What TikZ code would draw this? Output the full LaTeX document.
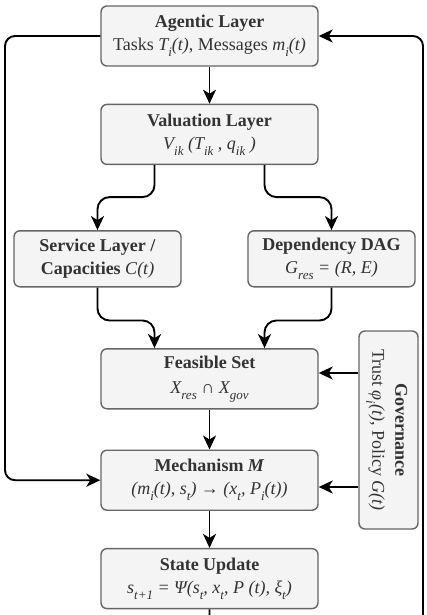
\documentclass[tikz,border=0pt]{standalone}
\usepackage{fontspec}
\setmainfont{Liberation Serif}
\usetikzlibrary{arrows.meta, positioning}
\definecolor{boxfill}{HTML}{F4F4F4}
\definecolor{boxline}{HTML}{666666}
\definecolor{ink}{HTML}{333333}
\newcommand{\idx}[1]{\raisebox{-0.33em}{\fontsize{13}{13}\selectfont #1}}

\begin{document}
\begin{tikzpicture}[
    x=1pt, y=-1pt,
    every node/.style={font=\fontsize{18}{23}\selectfont, text=ink},
    layer/.style={rectangle, draw=boxline, fill=boxfill, line width=1.4pt, rounded corners=6pt, minimum width=217pt, minimum height=60pt, align=center, inner sep=2pt},
    side/.style={layer, minimum width=167pt, minimum height=56pt},
    gov/.style={layer, minimum width=59pt, minimum height=198pt},
    flow/.style={->, line width=1.9pt, rounded corners=12pt},
    >={Stealth[length=14pt, width=13pt, inset=4pt]},
]
\useasboundingbox (0,0) rectangle (426,615);

% Main flow
\node[layer] (agent) at (209.5,36) {\textbf{Agentic Layer}\\ Tasks \textit{T\idx{i}(t)}, Messages \textit{m\idx{i}(t)}};
\node[layer, below=37pt of agent] (val) {\textbf{Valuation Layer}\\ \textit{V\idx{ik} (T\idx{ik} , q\idx{ik} )}};
\node[side, below=65pt of val, xshift=-112pt] (serv) {\textbf{Service Layer /}\\ \textbf{Capacities} \textit{C(t)}};
\node[side, below=65pt of val, xshift=122pt] (dag) {\textbf{Dependency DAG}\\ \textit{G\idx{res} = (R, E)}};
\node[layer, below=183pt of val] (feas) {\textbf{Feasible Set}\\[2pt] \textit{X\idx{res} ∩ X\idx{gov}}};
\node[layer, below=40pt of feas] (mech) {\textbf{Mechanism \textit{M}}\\ \textit{(m\idx{i}(t), s\idx{t}) → (x\idx{t}, P\idx{i}(t))}};
\node[layer, below=37pt of mech] (state) {\textbf{State Update}\\ \textit{s\idx{t+1} = Ψ(s\idx{t}, x\idx{t}, P (t), ξ\idx{t})}};
\node[gov] (govn) at (388.5,430) {\rotatebox{-90}{\begin{tabular}{@{}c@{}}\textbf{Governance}\\ Trust \textit{φ\idx{i}(t)}, Policy \textit{G(t)}\end{tabular}}};

% Vertical flow
\draw[flow] (agent) -- (val);
\draw[flow] ([xshift=-55pt]val.south) -- ++(0,32) -| (serv.north);
\draw[flow] ([xshift=55pt]val.south) -- ++(0,32) -| (dag.north);
\draw[flow] (serv.south) -- ++(0,33) -| ([xshift=-55pt]feas.north);
\draw[flow] (dag.south) -- ++(0,33) -| ([xshift=55pt]feas.north);
\draw[flow] (feas) -- (mech);
\draw[flow] (mech) -- (state);

% Governance inputs
\coordinate (g1) at ([yshift=57pt]govn.west);
\coordinate (g2) at ([yshift=-57pt]govn.west);
\draw[flow] (g1) -- (g1 -| feas.east);
\draw[flow] (g2) -- (g2 -| mech.east);

% Feedback loops
\coordinate (lft) at (5,0);
\coordinate (rgt) at (423,626);
\draw[flow, rounded corners=10pt] (agent.west) -- (agent.west -| lft) |- (mech.west);
\draw[flow, rounded corners=10pt] (state.south) |- (rgt) |- (agent.east);

\end{tikzpicture}
\end{document}
